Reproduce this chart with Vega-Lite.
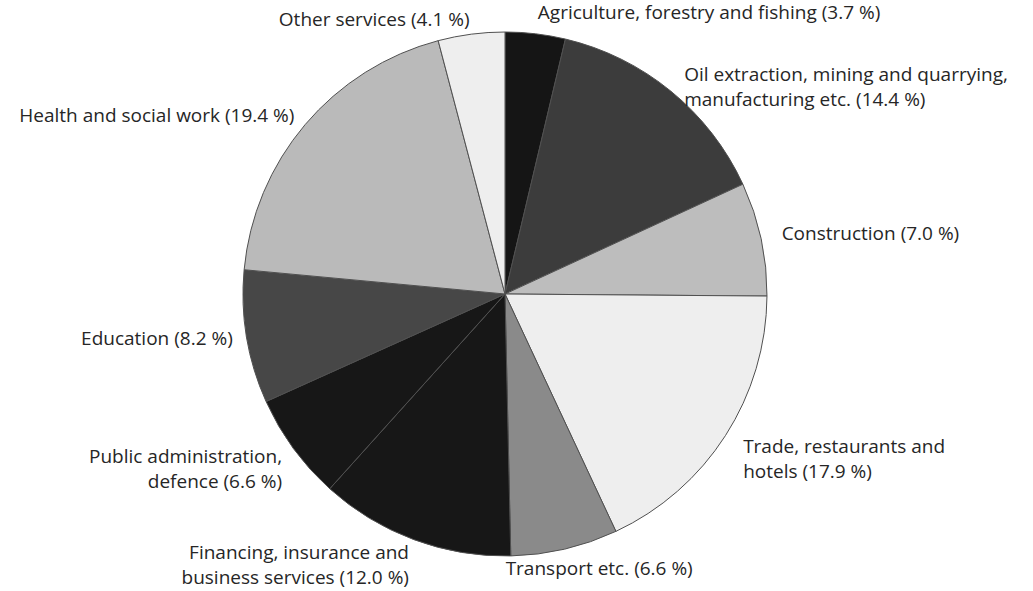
{
  "$schema": "https://vega.github.io/schema/vega-lite/v6.json",
  "width": 1010,
  "height": 588,
  "autosize": "none",
  "padding": {"left": 0, "top": 0, "right": 23, "bottom": 3},
  "background": "white",
  "data": {
    "values": [
      {"idx": 1, "sector": "Agriculture", "share": 3.7, "label": "Agriculture, forestry and fishing (3.7 %)"},
      {"idx": 2, "sector": "Oil", "share": 14.4, "label": "Oil extraction, mining and quarrying,\nmanufacturing etc. (14.4 %)"},
      {"idx": 3, "sector": "Construction", "share": 7.0, "label": "Construction (7.0 %)"},
      {"idx": 4, "sector": "Trade", "share": 17.9, "label": "Trade, restaurants and\nhotels (17.9 %)"},
      {"idx": 5, "sector": "Transport", "share": 6.6, "label": "Transport etc. (6.6 %)"},
      {"idx": 6, "sector": "Financing", "share": 12.0, "label": "Financing, insurance and\nbusiness services (12.0 %)"},
      {"idx": 7, "sector": "Public", "share": 6.6, "label": "Public administration,\ndefence (6.6 %)"},
      {"idx": 8, "sector": "Education", "share": 8.2, "label": "Education (8.2 %)"},
      {"idx": 9, "sector": "Health", "share": 19.4, "label": "Health and social work (19.4 %)"},
      {"idx": 10, "sector": "Other", "share": 4.1, "label": "Other services (4.1 %)"}
    ]
  },
  "transform": [
    {"joinaggregate": [{"op": "sum", "field": "share", "as": "total"}]},
    {"window": [{"op": "sum", "field": "share", "as": "cum"}], "sort": [{"field": "idx"}], "frame": [null, 0]},
    {"calculate": "(datum.cum - datum.share / 2) / datum.total", "as": "midFrac"}
  ],
  "resolve": {"scale": {"theta": "independent"}},
  "layer": [
    {
      "mark": {"type": "arc", "outerRadius": 262, "stroke": "#505050", "strokeWidth": 1},
      "encoding": {
        "theta": {"field": "share", "type": "quantitative", "stack": true},
        "order": {"field": "idx", "type": "quantitative"},
        "color": {
          "field": "sector",
          "type": "nominal",
          "legend": null,
          "scale": {
            "domain": ["Agriculture", "Oil", "Construction", "Trade", "Transport", "Financing", "Public", "Education", "Health", "Other"],
            "range": ["#151515", "#3c3c3c", "#bdbdbd", "#eeeeee", "#8a8a8a", "#171717", "#171717", "#474747", "#bababa", "#eeeeee"]
          }
        }
      }
    },
    {
      "transform": [{"filter": "datum.midFrac < 0.44"}],
      "mark": {"type": "text", "radius": 283, "align": "left", "baseline": "middle", "font": "Open Sans", "fontSize": 19, "lineHeight": 25, "color": "#262626", "lineBreak": "\n"},
      "encoding": {
        "theta": {"field": "midFrac", "type": "quantitative", "scale": {"domain": [0, 1]}},
        "text": {"field": "label", "type": "nominal"}
      }
    },
    {
      "transform": [{"filter": "datum.midFrac >= 0.44 && datum.midFrac < 0.53"}],
      "mark": {"type": "text", "radius": 282, "align": "center", "baseline": "middle", "dx": 30, "font": "Open Sans", "fontSize": 19, "lineHeight": 25, "color": "#262626", "lineBreak": "\n"},
      "encoding": {
        "theta": {"field": "midFrac", "type": "quantitative", "scale": {"domain": [0, 1]}},
        "text": {"field": "label", "type": "nominal"}
      }
    },
    {
      "transform": [{"filter": "datum.midFrac >= 0.53"}],
      "mark": {"type": "text", "radius": 276, "align": "right", "baseline": "middle", "font": "Open Sans", "fontSize": 19, "lineHeight": 25, "color": "#262626", "lineBreak": "\n"},
      "encoding": {
        "theta": {"field": "midFrac", "type": "quantitative", "scale": {"domain": [0, 1]}},
        "text": {"field": "label", "type": "nominal"}
      }
    }
  ]
}
